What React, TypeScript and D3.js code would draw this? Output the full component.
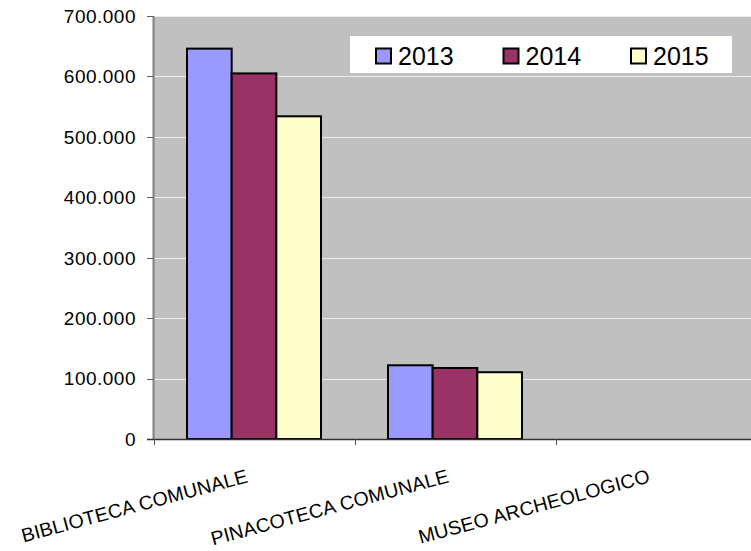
import React from "react";
import * as d3 from "d3";

const categories = ["BIBLIOTECA COMUNALE", "PINACOTECA COMUNALE", "MUSEO ARCHEOLOGICO"];
const years = ["2013", "2014", "2015"];
const values2013 = [646000, 122000, 0];
const values2014 = [605000, 117500, 0];
const values2015 = [534000, 110500, 0];
const yTicks = [0, 100000, 200000, 300000, 400000, 500000, 600000, 700000];
const colors = ["#9999FF", "#993366", "#FFFFCC"];

const W = 751;
const H = 551;
const FONT = "'Liberation Sans', Arial, sans-serif";

const itLocale = d3.formatLocale({ decimal: ",", thousands: ".", grouping: [3], currency: ["", "€"] });
const fmt = itLocale.format(",");

export default function App() {
  const series = [values2013, values2014, values2015];
  const left = 153.5;
  const top = 16;
  const bottom = 439;
  const x0 = d3.scaleBand<string>().domain(categories).range([left, left + 201 * 3]).paddingInner(0).paddingOuter(0);
  const x1 = d3.scaleBand<string>().domain(years).range([0, x0.bandwidth()]).paddingInner(0).paddingOuter(0.75);
  const y = d3.scaleLinear().domain([0, 700000]).range([bottom, top]);

  const catTicks = [...categories.map((c) => x0(c) as number), (x0(categories[2]) as number) + x0.bandwidth()];

  return (
    <svg width={W} height={H} style={{ position: "absolute", left: 0, top: 0, background: "#fff" }}>
      {/* plot area */}
      <rect x={left} y={top} width={W - left + 10} height={bottom - top} fill="#C0C0C0" />
      {yTicks.slice(1).map((t) => (
        <line key={"g" + t} x1={left} x2={W + 10} y1={Math.round(y(t)) + 0.5} y2={Math.round(y(t)) + 0.5} stroke="#EDEDED" strokeWidth={1.2} />
      ))}
      {/* bars */}
      {categories.map((c, ci) =>
        years.map((yr, si) => {
          const v = series[si][ci];
          if (v <= 0) return null;
          const bx = (x0(c) as number) + (x1(yr) as number);
          return (
            <rect
              key={c + yr}
              x={bx}
              y={y(v)}
              width={x1.bandwidth()}
              height={bottom - y(v)}
              fill={colors[si]}
              stroke="#000"
              strokeWidth={2}
            />
          );
        })
      )}
      {/* y axis */}
      <line x1={left} x2={left} y1={top} y2={bottom} stroke="#808080" strokeWidth={2} />
      {yTicks.map((t) => (
        <g key={"t" + t}>
          <line x1={147} x2={left} y1={Math.round(y(t)) + 0.5} y2={Math.round(y(t)) + 0.5} stroke="#606060" strokeWidth={1} />
          <text
            x={136}
            y={y(t) + 6.8}
            textAnchor="end"
            fontFamily={FONT}
            fontSize={19}
            letterSpacing={0.5}
            fill="#000"
          >
            {fmt(t)}
          </text>
        </g>
      ))}
      {/* x axis */}
      <line x1={147} x2={W + 10} y1={bottom + 0.5} y2={bottom + 0.5} stroke="#303030" strokeWidth={1.5} />
      {catTicks.map((tx, i) => (
        <line key={"ct" + i} x1={Math.round(tx) + 0.5} x2={Math.round(tx) + 0.5} y1={bottom} y2={bottom + 6} stroke="#505050" strokeWidth={1} />
      ))}
      {categories.map((c) => {
        const cx = (x0(c) as number) + x0.bandwidth() / 2 - 5;
        const cy = 482;
        return (
          <text
            key={"l" + c}
            x={cx}
            y={cy}
            textAnchor="end"
            fontFamily={FONT}
            fontSize={19.5}
            letterSpacing={0.2}
            transform={`rotate(-15, ${cx}, ${cy})`}
            fill="#000"
          >
            {c}
          </text>
        );
      })}
      {/* legend */}
      <rect x={350} y={36} width={382} height={37} fill="#fff" />
      {years.map((yr, i) => {
        const lx = [376, 503.5, 631][i];
        return (
          <g key={"lg" + yr}>
            <rect x={lx} y={48.5} width={15} height={15} fill={colors[i]} stroke="#000" strokeWidth={2} />
            <text x={lx + 22} y={64.5} fontFamily={FONT} fontSize={25} fill="#000">
              {yr}
            </text>
          </g>
        );
      })}
    </svg>
  );
}
